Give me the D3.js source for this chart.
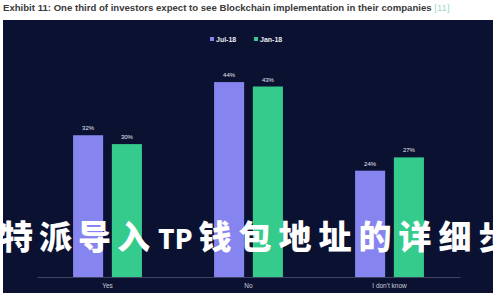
<!DOCTYPE html>
<html>
<head>
<meta charset="utf-8">
<script src="https://cdn.jsdelivr.net/npm/d3@7"></script>
<style>
  body { margin: 0; background: #fff; }
  svg { display: block; font-family: "Liberation Sans", Arial, sans-serif; }
</style>
</head>
<body>
<div id="chart"></div>
<script>
// chart data
var categories = ["Yes", "No", "I don't know"];
var seriesNames = ["Jul-18", "Jan-18"];
var jul18 = [32, 44, 24];
var jan18 = [30, 43, 27];
var colors = ["#8684ee", "#35cb8c"];
var titleText = "Exhibit 11: One third of investors expect to see Blockchain implementation in their companies";
var titleRef = "[11]";
var overlayParts = ["比特派导入", "TP", "钱包地址的详细步骤"];

var width = 500,
    height = 300;

var svg = d3.select("#chart")
  .append("svg")
  .attr("width", width)
  .attr("height", height);

// title on white strip
var title = svg.append("text")
  .attr("x", 3)
  .attr("y", 11)
  .style("font-size", "9.6px")
  .style("font-weight", "bold");
title.append("tspan")
  .attr("fill", "#3a3a3a")
  .text(titleText);
title.append("tspan")
  .attr("fill", "#9fd6cf")
  .style("font-weight", "normal")
  .text(" " + titleRef);

// dark panel
svg.append("rect")
  .attr("x", 3)
  .attr("y", 20)
  .attr("width", 490)
  .attr("height", 273)
  .attr("fill", "#0b1231");

// scales
var x0 = d3.scaleBand()
  .domain(categories)
  .range([37, 460])
  .padding(0);

var x1 = d3.scaleBand()
  .domain(seriesNames)
  .range([0, x0.bandwidth()])
  .paddingInner(0.225)
  .paddingOuter(0.93);

var y = d3.scaleLinear()
  .domain([0, 50])
  .range([277, 55.5]);

var rows = categories.map(function(c, i) {
  return { cat: c, values: [jul18[i], jan18[i]] };
});

var groups = svg.selectAll("g.group")
  .data(rows)
  .enter()
  .append("g")
  .attr("class", "group")
  .attr("transform", function(d) { return "translate(" + x0(d.cat) + ",0)"; });

groups.selectAll("rect")
  .data(function(d) { return d.values.map(function(v, j) { return { key: seriesNames[j], value: v, j: j }; }); })
  .enter()
  .append("rect")
  .attr("x", function(d) { return x1(d.key); })
  .attr("y", function(d) { return y(d.value); })
  .attr("width", x1.bandwidth())
  .attr("height", function(d) { return y(0) - y(d.value); })
  .attr("fill", function(d) { return colors[d.j]; });

groups.selectAll("text.val")
  .data(function(d) { return d.values.map(function(v, j) { return { key: seriesNames[j], value: v }; }); })
  .enter()
  .append("text")
  .attr("class", "val")
  .attr("x", function(d) { return x1(d.key) + x1.bandwidth() / 2; })
  .attr("y", function(d) { return y(d.value) - 5; })
  .attr("text-anchor", "middle")
  .attr("fill", "#e6e8f0")
  .style("font-size", "6px")
  .text(function(d) { return d.value + "%"; });

// x axis
var xAxis = svg.append("g")
  .attr("transform", "translate(0," + y(0) + ")")
  .call(d3.axisBottom(x0).tickSize(0).tickPadding(6));
xAxis.select(".domain").attr("stroke", "#4a5170").attr("stroke-width", 0.8);
xAxis.selectAll("text")
  .attr("fill", "#c9ccd8")
  .style("font-size", "6.5px")
  .style("font-family", "Liberation Sans, Arial, sans-serif");

// legend
var legend = svg.append("g")
  .attr("transform", "translate(210,39)");
var li = legend.selectAll("g")
  .data(seriesNames)
  .enter()
  .append("g")
  .attr("transform", function(d, i) { return "translate(" + (i * 44) + ",0)"; });
li.append("rect")
  .attr("x", 0)
  .attr("y", -2)
  .attr("width", 4)
  .attr("height", 4)
  .attr("fill", function(d, i) { return colors[i]; });
li.append("text")
  .attr("x", 6)
  .attr("y", 2.5)
  .attr("fill", "#e8eaf2")
  .style("font-size", "7px")
  .style("font-weight", "bold")
  .text(function(d) { return d; });

// overlay caption (runs off both edges)
var cap = svg.append("text")
  .attr("x", -39)
  .attr("y", 249)
  .attr("fill", "#ffffff")
  .style("font-family", "'Noto Sans CJK SC', sans-serif")
  .style("font-weight", 900)
  .style("font-size", "33px");
cap.append("tspan")
  .style("letter-spacing", "6px")
  .text(overlayParts[0]);
cap.append("tspan")
  .attr("dx", 2)
  .style("font-size", "26px")
  .style("letter-spacing", "0px")
  .text(overlayParts[1]);
cap.append("tspan")
  .attr("dx", 6)
  .style("letter-spacing", "7px")
  .text(overlayParts[2]);
</script>
</body>
</html>
